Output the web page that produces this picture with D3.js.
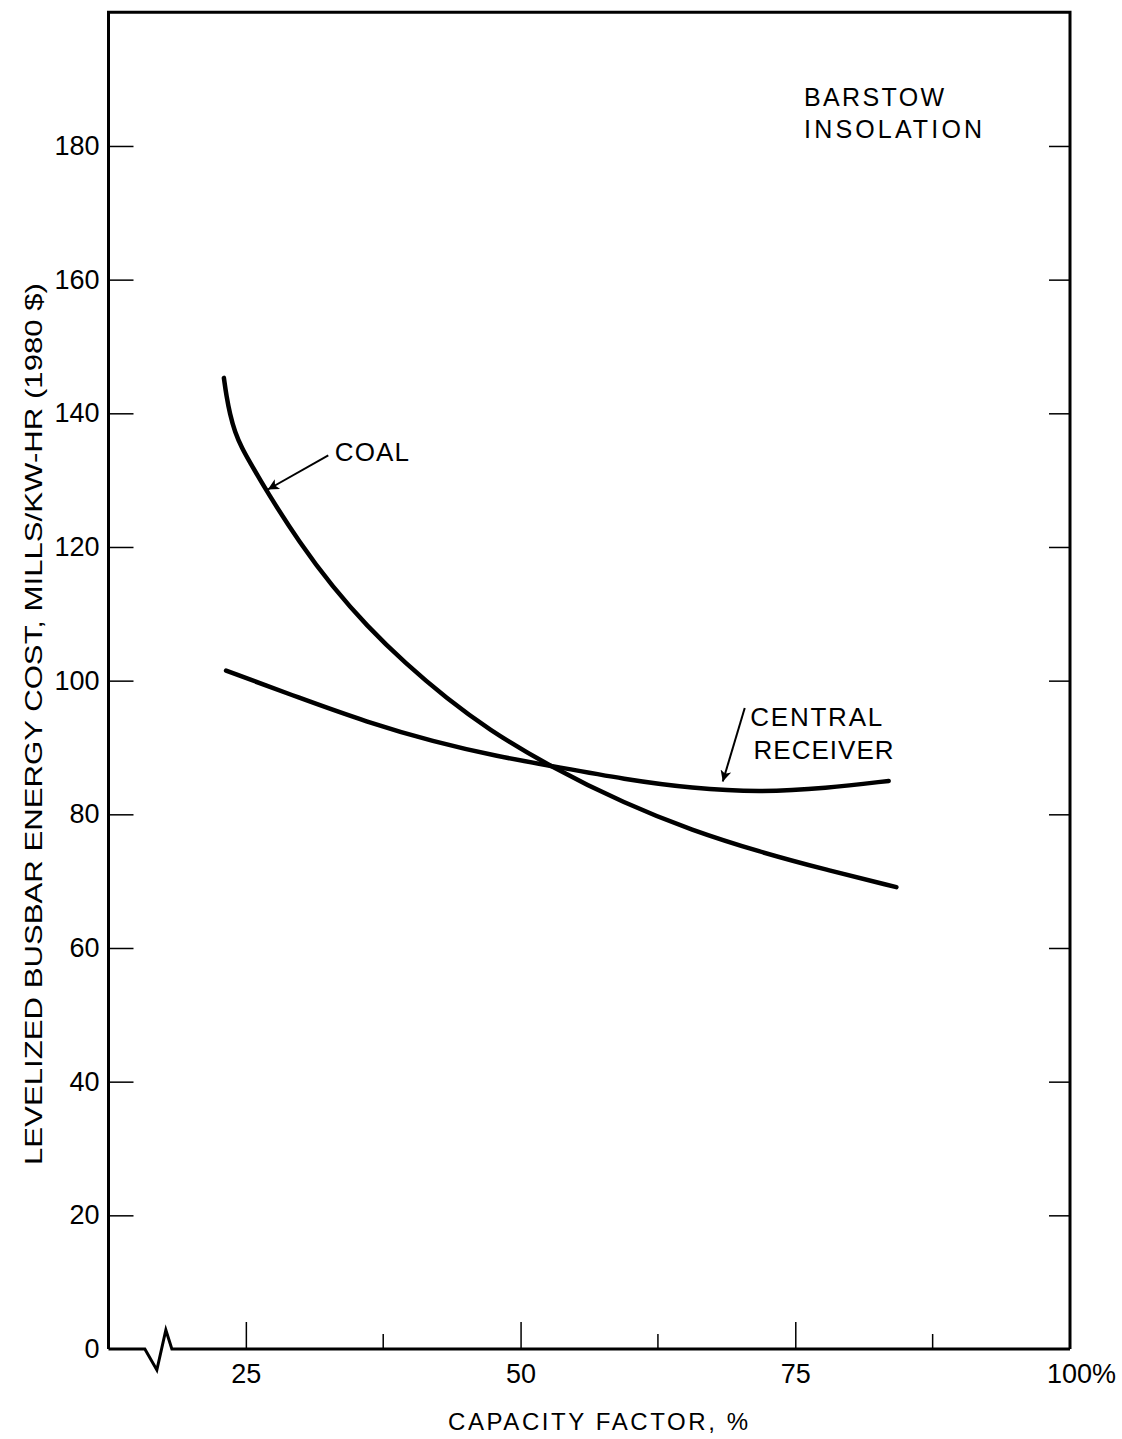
<!DOCTYPE html>
<html>
<head>
<meta charset="utf-8">
<script src="https://cdn.jsdelivr.net/npm/d3@7/dist/d3.min.js"></script>
<style>
  body { margin: 0; background: #fff; }
  text { font-family: "Liberation Sans", Arial, sans-serif; fill: #000; }
</style>
</head>
<body>
<div id="chart-area"></div>
<script>

// SVG Size
var width = 1122,
    height = 1439;

// data (capacity factor %, mills/kW-hr)
var coalX = [23.0, 23.23, 23.55, 24.0, 24.64, 25.36, 26.9, 29.9, 32.9, 36.0, 39.5, 43.3, 47.0, 52.4, 59.6, 65.6, 71.7, 77.8, 84.2];
var coalY = [145.3, 142.6, 139.9, 137.2, 134.8, 132.7, 128.3, 120.6, 114.0, 108.2, 102.6, 97.3, 92.8, 87.4, 81.5, 77.6, 74.4, 71.7, 69.1];

var receiverX = [23.2, 29.9, 36.0, 42.0, 48.1, 52.6, 59.6, 65.6, 71.7, 77.8, 83.5];
var receiverY = [101.5, 97.4, 93.8, 90.9, 88.6, 87.3, 85.2, 83.9, 83.3, 83.9, 85.0];

var yTicks = [0, 20, 40, 60, 80, 100, 120, 140, 160, 180];
var xMajorTicks = [25, 50, 75, 100];
var xMinorTicks = [37.5, 62.5, 87.5];
var xBreakAt = 16.9;

var svg = d3.select("#chart-area").append("svg")
    .attr("width", width)
    .attr("height", height);

var xScale = d3.scaleLinear()
    .domain([12.5, 100])
    .range([108.5, 1070]);

var yScale = d3.scaleLinear()
    .domain([0, 200])
    .range([1349, 12.3]);

var x0 = xScale.range()[0], x1 = xScale.range()[1];
var yb = yScale(0), yt = yScale(200);

// frame: left, top, right
svg.append("path")
    .attr("d", "M" + x0 + "," + yb + "V" + yt + "H" + x1 + "V" + yb)
    .attr("fill", "none")
    .attr("stroke", "#000")
    .attr("stroke-width", 3);

// bottom axis line with break symbol
var bx = xScale(xBreakAt);
svg.append("path")
    .attr("d", "M" + x0 + "," + yb + "H" + (bx - 12) +
        "L" + bx + "," + (yb + 21) +
        "L" + (bx + 9) + "," + (yb - 19) +
        "L" + (bx + 15) + "," + yb +
        "H" + x1)
    .attr("fill", "none")
    .attr("stroke", "#000")
    .attr("stroke-width", 3)
    .attr("stroke-linejoin", "miter");

// y axis left (inward ticks)
var yAxisLeft = d3.axisLeft(yScale)
    .tickValues(yTicks)
    .tickSizeInner(-25)
    .tickSizeOuter(0)
    .tickPadding(9);

var gl = svg.append("g")
    .attr("class", "axis y-axis")
    .attr("transform", "translate(" + x0 + ",0)")
    .call(yAxisLeft);
gl.select(".domain").remove();
gl.selectAll("line").attr("stroke-width", 1.5)
    .filter(function(d){ return d === 0; }).remove();
gl.selectAll("text")
    .attr("font-size", 27)
    .attr("font-family", "Liberation Sans, Arial, sans-serif");

// y axis right (inward ticks)
var yAxisRight = d3.axisRight(yScale)
    .tickValues(yTicks.filter(function(d){ return d > 0; }))
    .tickSizeInner(-21)
    .tickSizeOuter(0)
    .tickFormat("");

var gr = svg.append("g")
    .attr("transform", "translate(" + x1 + ",0)")
    .call(yAxisRight);
gr.select(".domain").remove();
gr.selectAll("line").attr("stroke-width", 1.5);

// x axis ticks
var xAxis = d3.axisBottom(xScale)
    .tickValues(xMajorTicks.filter(function(d){ return d < 100; }))
    .tickSizeInner(-27)
    .tickSizeOuter(0)
    .tickPadding(8)
    .tickFormat(d3.format("d"));

var gx = svg.append("g")
    .attr("class", "axis x-axis")
    .attr("transform", "translate(0," + yb + ")")
    .call(xAxis);
gx.select(".domain").remove();
gx.selectAll("line").attr("stroke-width", 1.5);
gx.selectAll("text")
    .attr("font-size", 27)
    .attr("font-family", "Liberation Sans, Arial, sans-serif")
    .attr("dy", "0.95em");

svg.selectAll(".minor")
    .data(xMinorTicks)
    .enter()
    .append("line")
    .attr("class", "minor")
    .attr("x1", function(d){ return xScale(d); })
    .attr("x2", function(d){ return xScale(d); })
    .attr("y1", yb)
    .attr("y2", yb - 15)
    .attr("stroke", "#000")
    .attr("stroke-width", 1.5);

// 100% label
svg.append("text")
    .attr("x", xScale(100) - 23)
    .attr("y", yb + 34)
    .attr("font-size", 27)
    .text("100%");

// curves
var line = d3.line()
    .x(function(d){ return xScale(d[0]); })
    .y(function(d){ return yScale(d[1]); })
    .curve(d3.curveBasis);

var coal = coalX.map(function(x, i){ return [x, coalY[i]]; });
var receiver = receiverX.map(function(x, i){ return [x, receiverY[i]]; });

[coal, receiver].forEach(function(s){
    svg.append("path")
        .datum(s)
        .attr("d", line)
        .attr("fill", "none")
        .attr("stroke", "#000")
        .attr("stroke-width", 4.5)
        .attr("stroke-linecap", "round");
});

// arrows
svg.append("defs").append("marker")
    .attr("id", "arrow")
    .attr("viewBox", "0 0 10 10")
    .attr("refX", 10)
    .attr("refY", 5)
    .attr("markerWidth", 22)
    .attr("markerHeight", 11)
    .attr("markerUnits", "userSpaceOnUse")
    .attr("orient", "auto")
    .append("path")
    .attr("d", "M0,0L10,5L0,10L2.5,5Z")
    .attr("fill", "#000");

function arrow(fromX, fromY, toX, toY) {
    svg.append("line")
        .attr("x1", xScale(fromX)).attr("y1", yScale(fromY))
        .attr("x2", xScale(toX)).attr("y2", yScale(toY))
        .attr("stroke", "#000")
        .attr("stroke-width", 2)
        .attr("marker-end", "url(#arrow)");
}
arrow(32.5, 133.7, 27.0, 128.6);
arrow(70.4, 95.9, 68.4, 84.9);

// labels
function label(x, y, txt, size, len) {
    svg.append("text")
        .attr("x", xScale(x))
        .attr("y", yScale(y))
        .attr("font-size", size)
        .attr("textLength", len)
        .attr("lengthAdjust", "spacing")
        .text(txt);
}
label(33.1, 132.8, "COAL", 26, 74);
label(70.9, 93.2, "CENTRAL", 26, 132);
label(71.2, 88.3, "RECEIVER", 26, 140);
label(75.8, 186.0, "BARSTOW", 25, 140);
label(75.8, 181.2, "INSOLATION", 25, 178);

// axis titles
svg.append("text")
    .attr("class", "x label")
    .attr("text-anchor", "middle")
    .attr("x", 598)
    .attr("y", 1430)
    .attr("font-size", 24)
    .attr("textLength", 300)
    .attr("lengthAdjust", "spacing")
    .text("CAPACITY FACTOR, %");

svg.append("text")
    .attr("class", "y label")
    .attr("text-anchor", "middle")
    .attr("transform", "translate(42,724) rotate(-90)")
    .attr("font-size", 24)
    .attr("textLength", 882)
    .attr("lengthAdjust", "spacingAndGlyphs")
    .text("LEVELIZED BUSBAR ENERGY COST, MILLS/KW-HR (1980 $)");

</script>
</body>
</html>
